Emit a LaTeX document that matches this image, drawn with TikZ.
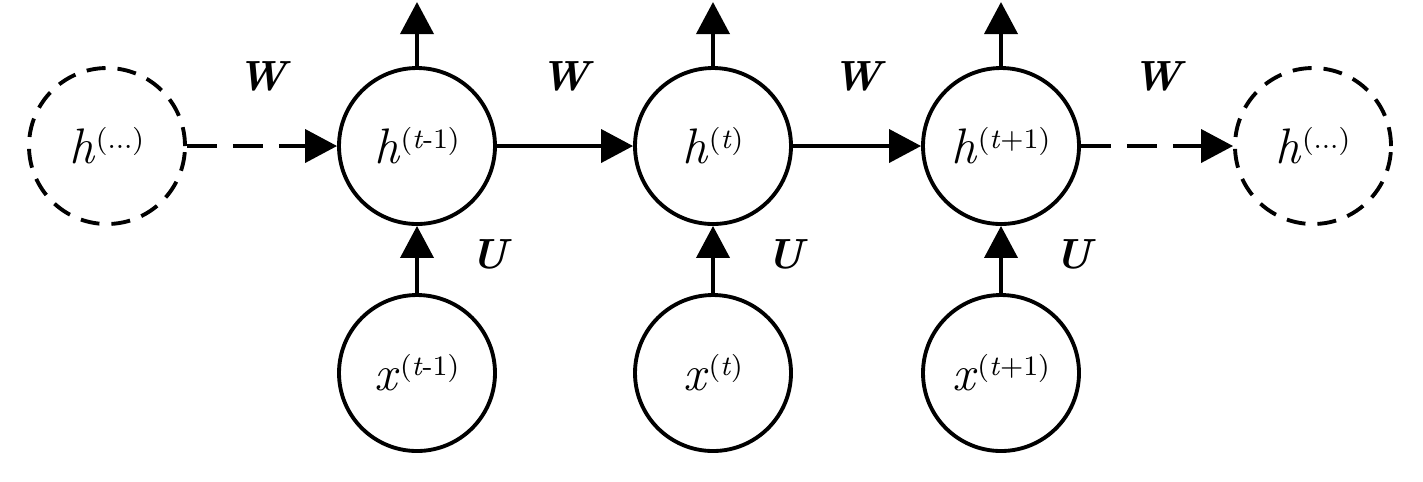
\documentclass[tikz,border=0pt]{standalone}
\usetikzlibrary{arrows.meta}
\newcommand{\sups}[1]{\raisebox{4.3pt}{\fontsize{8}{9}\selectfont #1}}

\begin{document}
\begin{tikzpicture}[-{Triangle[length=0.32cm,width=0.33cm]},node distance=3cm,
	line width=1.1pt,main node/.style={circle,draw,minimum size=1.56cm,inner sep=0pt,
	font=\fontsize{14.2}{16}\selectfont},
	ghost node/.style={main node,dash pattern=on 0.19cm off 0.12cm},
	weight/.style={anchor=center,font=\fontsize{12}{14}\selectfont\bfseries\itshape}]
\useasboundingbox (0,0) rectangle (14.23,-4.81);
\node[ghost node] (h0) at (1.07,-1.46) {\textit{h}\sups{(...)}};
\node[main node] (h1) [right of=h0, node distance=3.1cm] {\textit{h}\sups{(\textit{t}-1)}};
\node[main node] (h2) [right of=h1, node distance=2.96cm] {\textit{h}\sups{(\textit{t})}};
\node[main node] (h3) [right of=h2, node distance=2.88cm] {\textit{h}\sups{(\textit{t}+1)}};
\node[ghost node] (h4) [right of=h3, node distance=3.12cm] {\textit{h}\sups{(...)}};
\node[main node] (x1) [below of=h1, node distance=2.27cm] {\textit{x}\sups{(\textit{t}-1)}};
\node[main node] (x2) [below of=h2, node distance=2.27cm] {\textit{x}\sups{(\textit{t})}};
\node[main node] (x3) [below of=h3, node distance=2.27cm] {\textit{x}\sups{(\textit{t}+1)}};
% outputs leave the picture at the top
\coordinate (o1) at (h1 |- 0,-0.02);
\coordinate (o2) at (h2 |- 0,-0.02);
\coordinate (o3) at (h3 |- 0,-0.02);
\path[every node/.style=weight]
	(h0) 	edge [dash pattern=on 0.3cm off 0.16cm] node[midway,yshift=0.7cm] {W} (h1)
	(h1) 	edge node[midway,yshift=0.7cm] {W} (h2)
		edge (o1)
	(h2) 	edge node[midway,yshift=0.7cm] {W} (h3)
		edge (o2)
	(h3) 	edge [dash pattern=on 0.3cm off 0.16cm] node[midway,yshift=0.7cm] {W} (h4)
		edge (o3)
	(x1) edge node[midway,xshift=0.72cm,yshift=0.05cm] {U} (h1)
	(x2) edge node[midway,xshift=0.72cm,yshift=0.05cm] {U} (h2)
	(x3) edge node[midway,xshift=0.72cm,yshift=0.05cm] {U} (h3);
\end{tikzpicture}
\end{document}
